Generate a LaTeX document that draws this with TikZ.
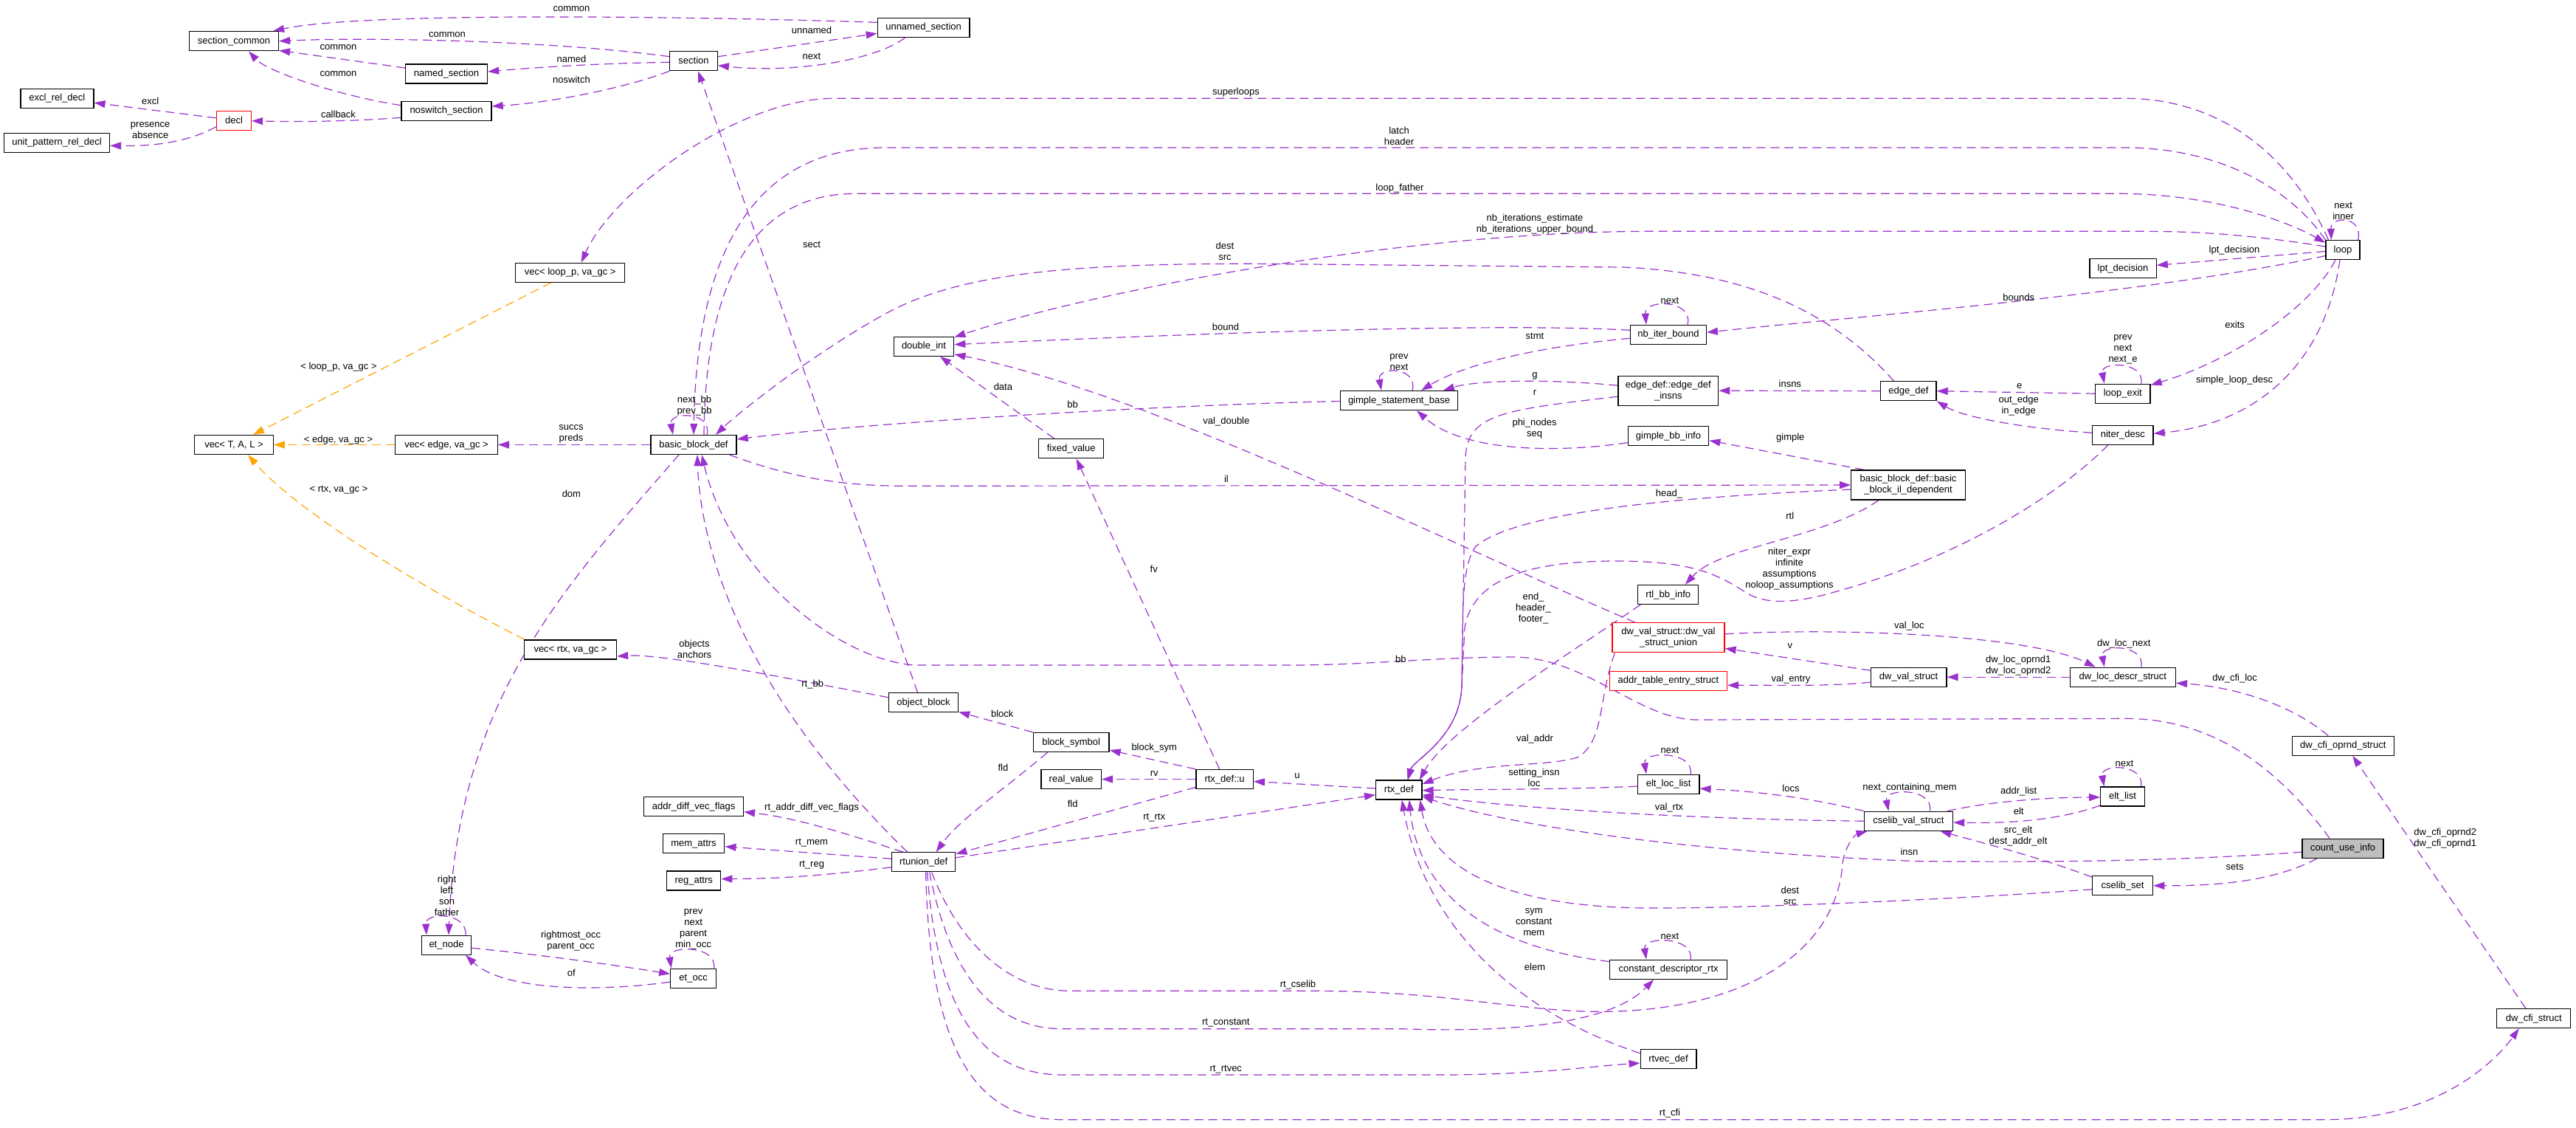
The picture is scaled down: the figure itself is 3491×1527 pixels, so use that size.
\documentclass[tikz,border=0pt]{standalone}
\usepackage{fontspec}
\setmainfont{Liberation Sans}
\usetikzlibrary{arrows.meta}
\pgfdeclarelayer{bg}
\pgfsetlayers{bg,main}
\definecolor{pur}{RGB}{154,50,205}
\definecolor{org}{RGB}{255,165,0}
\definecolor{rootgray}{RGB}{191,191,191}
\newcommand\dgfont{\fontsize{13}{15}\selectfont}
\tikzset{
  cls/.style={draw=black, line width=1.3pt, fill=white, minimum height=26pt, inner xsep=3pt, inner ysep=0pt, font=\dgfont, text height=9.5pt, text depth=2.5pt},
  cls2/.style={draw=black, line width=1.3pt, fill=white, minimum height=40pt, inner xsep=3pt, inner ysep=0pt, font=\dgfont, align=center},
  redcls/.style={draw=red},
  rootcls/.style={fill=rootgray},
  rel/.style={draw=pur, line width=1.2pt, dash pattern=on 12pt off 7pt, -{Triangle[length=15pt,width=10pt]}},
  tmpl/.style={draw=org, line width=1.2pt, dash pattern=on 12pt off 7pt, -{Triangle[length=15pt,width=10pt]}},
  lab/.style={font=\dgfont, align=center, inner sep=0pt}
}
\begin{document}
\begin{tikzpicture}[x=1pt,y=-1pt]
\useasboundingbox (0,0) rectangle (3491,1527);
% ---------- class nodes ----------
\node[cls, minimum width=121pt] (sc) at (317,55.7) {section\_common};
\node[cls, minimum width=111pt] (ns) at (605,100) {named\_section};
\node[cls, minimum width=122pt] (nss) at (605,150.3) {noswitch\_section};
\node[cls, minimum width=99pt] (erd) at (77.4,133.2) {excl\_rel\_decl};
\node[cls, redcls, minimum width=47pt] (decl) at (317,163.8) {decl};
\node[cls, minimum width=143pt] (uprd) at (77,193.3) {unit\_pattern\_rel\_decl};
\node[cls, minimum width=64.5pt] (sec) at (940,82.7) {section};
\node[cls, minimum width=124.6pt] (uns) at (1251.6,37.3) {unnamed\_section};
\node[cls, minimum width=148pt] (vlp) at (772.7,369.3) {vec< loop\_p, va\_gc >};
\node[cls, minimum width=106.6pt] (vtal) at (317,602.5) {vec< T, A, L >};
\node[cls, minimum width=138.6pt] (ved) at (605,602.5) {vec< edge, va\_gc >};
\node[cls, minimum width=125pt] (vrtx) at (773,880) {vec< rtx, va\_gc >};
\node[cls, minimum width=116.2pt] (bbd) at (940,602.5) {basic\_block\_def};
\node[cls, minimum width=81.4pt] (di) at (1252,469.3) {double\_int};
\node[cls, minimum width=88pt] (fv) at (1451.7,607.8) {fixed\_value};
\node[cls, minimum width=94pt] (ob) at (1251.6,951.8) {object\_block};
\node[cls, minimum width=102.7pt] (bs) at (1451.7,1005.5) {block\_symbol};
\node[cls, minimum width=81.4pt] (rv) at (1451.7,1055.5) {real\_value};
\node[cls, minimum width=77.4pt] (rxu) at (1659.6,1055.5) {rtx\_def::u};
\node[cls, minimum width=134.7pt] (adv) at (940.1,1092.7) {addr\_diff\_vec\_flags};
\node[cls, minimum width=83.6pt] (ma) at (940,1142.7) {mem\_attrs};
\node[cls, minimum width=73pt] (ra) at (940.2,1193) {reg\_attrs};
\node[cls, minimum width=86.4pt] (rtu) at (1251.6,1167.8) {rtunion\_def};
\node[cls, minimum width=67.3pt] (etn) at (605,1280.2) {et\_node};
\node[cls, minimum width=61.7pt] (eto) at (939.6,1325.2) {et\_occ};
\node[cls, minimum width=159.4pt] (gsb) at (1896,542.5) {gimple\_statement\_base};
\node[cls, minimum width=102.7pt] (nib) at (2261,453.3) {nb\_iter\_bound};
\node[cls2, minimum width=135.8pt] (edi) at (2260.8,529.2) {edge\_def::edge\_def\\\_insns};
\node[cls, minimum width=75.3pt] (ed) at (2586.4,529.7) {edge\_def};
\node[cls, minimum width=109.5pt] (gbi) at (2261,590.7) {gimple\_bb\_info};
\node[cls2, minimum width=154.4pt] (bil) at (2586,657) {basic\_block\_def::basic\\\_block\_il\_dependent};
\node[cls, minimum width=82pt] (rbi) at (2260.8,805.5) {rtl\_bb\_info};
\node[cls2, redcls, minimum width=152pt] (dvu) at (2261,863.8) {dw\_val\_struct::dw\_val\\\_struct\_union};
\node[cls, redcls, minimum width=158.8pt] (ate) at (2261,922.3) {addr\_table\_entry\_struct};
\node[cls, minimum width=102.8pt] (dvs) at (2586.6,917.2) {dw\_val\_struct};
\node[cls, minimum width=62.3pt] (rtx) at (1895.8,1070) {rtx\_def};
\node[cls, minimum width=83.6pt] (ell) at (2261.1,1062.2) {elt\_loc\_list};
\node[cls, minimum width=120.3pt] (cvs) at (2586.4,1112.2) {cselib\_val\_struct};
\node[cls, minimum width=158.8pt] (cdr) at (2261.1,1313.2) {constant\_descriptor\_rtx};
\node[cls, minimum width=75.7pt] (rvd) at (2261,1434.7) {rtvec\_def};
\node[cls, minimum width=46pt] (loop) at (3175,338.5) {loop};
\node[cls, minimum width=90.3pt] (lpt) at (2877,363.8) {lpt\_decision};
\node[cls, minimum width=74.6pt] (lex) at (2876.8,533.2) {loop\_exit};
\node[cls, minimum width=82.5pt] (nd) at (2876.8,589.3) {niter\_desc};
\node[cls, minimum width=143.1pt] (dld) at (2876.8,917.2) {dw\_loc\_descr\_struct};
\node[cls, minimum width=138pt] (dco) at (3175.2,1010.2) {dw\_cfi\_oprnd\_struct};
\node[cls, minimum width=59.5pt] (el) at (2876.5,1079) {elt\_list};
\node[cls, rootcls, minimum width=110pt] (cui) at (3175.1,1149.2) {count\_use\_info};
\node[cls, minimum width=82pt] (cs) at (2876.6,1199.7) {cselib\_set};
\node[cls, minimum width=100pt] (dcs) at (3433.8,1379.5) {dw\_cfi\_struct};
% ---------- connectors ----------
\begin{pgfonlayer}{bg}
\fill[white] (0,0) rectangle (3491,1527);
\draw[rel] ([yshift=7pt]uns.west) .. controls (1000,24) and (500,14) .. ([xshift=-8pt]sc.north east);
\draw[rel] ([yshift=6pt]sec.west) .. controls (750,55) and (500,50) .. (sc.east);
\draw[rel] ([yshift=8pt]ns.west) -- ([yshift=1pt]sc.south east);
\draw[rel] ([yshift=7.6pt]nss.west) .. controls (450,128) and (360,95) .. ([xshift=20pt]sc.south);
\draw[rel] ([yshift=-1.6pt]sec.west) .. controls (800,86) and (720,92) .. ([yshift=3pt]ns.east);
\draw[rel] (sec.south west) .. controls (860,115) and (760,138) .. ([yshift=6.3pt]nss.east);
\draw[rel] ([yshift=-9pt]nss.west) .. controls (470,165) and (400,165) .. (decl.east);
\draw[rel] ([yshift=4pt]decl.west) -- ([yshift=-6pt]erd.east);
\draw[rel] ([yshift=-8pt]decl.west) .. controls (250,195) and (200,198) .. ([yshift=-4pt]uprd.east);
\draw[rel] ([yshift=6pt]sec.east) -- ([yshift=-8pt]uns.west);
\draw[rel] ([xshift=-25pt]uns.south) .. controls (1190,80) and (1080,100) .. ([yshift=-6pt]sec.east);
\draw[rel] ([xshift=-8pt]ob.north) -- ([xshift=6pt]sec.south);
% loop
\draw[rel] ([xshift=4pt]loop.north west) .. controls (3100,200) and (3000,133.3) .. (2880,133.3) -- (1130,133.3) .. controls (1000,133.3) and (830,260) .. ([xshift=15pt]vlp.north);
\draw[rel] (loop.north west) .. controls (3100,250) and (3000,200) .. (2880,200) -- (1200,200) .. controls (1050,200) and (945,300) .. (bbd.north);
\draw[rel] ([xshift=14pt]bbd.north) .. controls (956,380) and (1020,262.3) .. (1160,262.3) -- (2870,262.3) .. controls (3000,262.3) and (3100,300) .. ([yshift=-4pt]loop.north west);
\draw[rel] ([yshift=4.5pt]loop.west) .. controls (3050,318) and (2980,313.3) .. (2900,313.3) -- (2240,313.3) .. controls (1900,313.3) and (1480,395) .. ([yshift=-1pt]di.north east);
\draw[rel] ([yshift=-2pt]loop.west) -- ([yshift=4.5pt]lpt.east);
\draw[rel] ([yshift=-8pt]loop.west) .. controls (2900,400) and (2500,430) .. ([yshift=3pt]nib.east);
\draw[rel] ([xshift=-10pt]loop.south) .. controls (3130,420) and (3020,490) .. ([yshift=-2pt]lex.north east);
\draw[rel] ([xshift=-4pt]loop.south) .. controls (3150,500) and (3050,575) .. ([yshift=2pt]nd.east);
\draw[rel] ([xshift=-3pt]loop.north east) .. controls (3203,292) and (3158,292) .. ([xshift=8pt]loop.north west);
% nb_iter_bound, gimple
\draw[rel] ([xshift=26pt]nib.north) .. controls (2295,405) and (2228,405) .. ([xshift=-30pt]nib.north);
\draw[rel] ([yshift=6pt]nib.west) .. controls (2050,438) and (1700,448) .. ([yshift=2.6pt]di.east);
\draw[rel] ([yshift=-5pt]nib.west) .. controls (2100,468) and (1990,490) .. ([xshift=30pt]gsb.north);
\draw[rel] ([xshift=18pt]gsb.north) .. controls (1922,496) and (1866,496) .. ([xshift=-24pt]gsb.north);
\draw[rel] ([yshift=7pt]edi.west) .. controls (2100,513) and (2000,515) .. ([xshift=60pt]gsb.north);
\draw[rel] ([yshift=-8pt]edi.west) .. controls (2040,555) and (1988,560) .. (1986,620) -- (1981,930) .. controls (1978,1000) and (1915,1030) .. ([xshift=12pt]rtx.north);
\draw[rel] (ed.west) -- (edi.east);
\draw[rel] (lex.west) -- (ed.east);
\draw[rel] ([yshift=3pt]nd.west) .. controls (2740,580) and (2660,565) .. (ed.south east);
\draw[rel] ([xshift=25pt]lex.north) .. controls (2907,489) and (2846,489) .. ([xshift=-25pt]lex.north);
\draw[rel] ([xshift=-20pt]ed.north) .. controls (2490,430) and (2380,370) .. (2200,362) -- (1700,357.3) .. controls (1450,357) and (1300,370) .. (1200,425) .. controls (1100,480) and (1000,560) .. ([xshift=30pt]bbd.north);
\draw[rel] ([yshift=-9pt]gbi.west) .. controls (2100,615) and (1980,610) .. ([xshift=24pt]gsb.south);
\draw[rel] ([xshift=-60pt]bil.north) -- ([yshift=-6pt]gbi.east);
\draw[rel] ([xshift=-10pt]bbd.south east) .. controls (1080,650) and (1150,658.3) .. (1230,658.3) -- (bil.west);
\draw[rel] ([yshift=-6pt]bil.west) .. controls (2300,672) and (2060,690) .. (2000,740) .. controls (1985,760) and (1983,800) .. (1982,850) -- (1981,930) .. controls (1978,1000) and (1915,1030) .. ([xshift=12pt]rtx.north);
\draw[rel] ([xshift=-40pt]bil.south) .. controls (2470,730) and (2330,740) .. ([xshift=23pt]rbi.north);
\draw[rel] ([xshift=-20pt]nd.south) .. controls (2780,680) and (2640,760) .. (2486,802) .. controls (2430,818) and (2395,818) .. (2370,805) .. controls (2330,780) and (2300,760) .. (2189,760) .. controls (2060,760) and (1995,790) .. (1985,850) -- (1981,930) .. controls (1978,1000) and (1915,1030) .. ([xshift=12pt]rtx.north);
\draw[rel] ([xshift=4pt]rbi.south west) .. controls (2120,890) and (1960,990) .. ([xshift=28pt]rtx.north);
\draw[rel] ([xshift=4pt]dvu.south west) .. controls (2165,950) and (2175,1000) .. (2140,1025) .. controls (2100,1040) and (2010,1030) .. ([yshift=8pt]rtx.east);
\draw[rel] ([xshift=-45pt]dvu.north) .. controls (1950,730) and (1550,530) .. ([yshift=-10.7pt]di.east);
\draw[rel] ([xshift=-23pt]fv.north) -- ([xshift=22pt]di.south);
\draw[rel] ([yshift=9pt]dvs.west) -- ([yshift=-14.5pt]dvu.east);
\draw[rel] ([yshift=-7pt]dvs.west) .. controls (2480,930) and (2400,928) .. ([yshift=-6pt]ate.east);
\draw[rel] ([yshift=5pt]dvu.east) .. controls (2500,850) and (2750,860) .. ([xshift=-37pt]dld.north);
\draw[rel] (dld.west) -- (dvs.east);
\draw[rel] ([xshift=25pt]dld.north) .. controls (2907,872) and (2846,872) .. ([xshift=-25pt]dld.north);
\draw[rel] ([xshift=-20pt]dco.north) .. controls (3100,950) and (3020,930) .. ([yshift=-8pt]dld.east);
\draw[rel] ([xshift=-11pt]dcs.north) -- ([xshift=13pt]dco.south);
% rtunion_def
\draw[rel] ([xshift=3pt]rtu.south) .. controls (1260,1420) and (1320,1516.7) .. (1440,1516.7) -- (3150,1516.7) .. controls (3300,1516.7) and (3380,1440) .. ([xshift=-20pt]dcs.south);
\draw[rel] ([xshift=5pt]rtu.south) .. controls (1270,1370) and (1330,1456) .. (1440,1456) -- (1950,1456) .. controls (2080,1456) and (2150,1445) .. ([yshift=-5.3pt]rvd.west);
\draw[rel] ([xshift=8pt]rtu.south) .. controls (1285,1310) and (1340,1393.7) .. (1440,1393.7) -- (1900,1393.7) .. controls (2080,1400) and (2190,1380) .. ([xshift=-20pt]cdr.south);
\draw[rel] ([xshift=11pt]rtu.south) .. controls (1300,1280) and (1370,1342.3) .. (1450,1342.3) -- (1780,1342.3) .. controls (2000,1342) and (2100,1385) .. (2250,1365) .. controls (2400,1345) and (2490,1270) .. (2497,1170) .. controls (2500,1145) and (2515,1130) .. ([xshift=5pt]cvs.south west);
\draw[rel] ([xshift=-22pt]rtu.north) .. controls (1020,950) and (950,760) .. ([xshift=5pt]bbd.south);
\draw[rel] ([xshift=-18pt]cui.north) .. controls (3080,1030) and (2990,973.3) .. (2880,973.3) -- (2300,975) .. controls (2220,975) and (2150,890) .. (2050,890) .. controls (1950,890) and (1850,901) .. (1750,901) -- (1240,901) .. controls (1140,895) and (990,780) .. ([xshift=11pt]bbd.south);
\draw[rel] ([yshift=7pt]ob.west) .. controls (1100,925) and (900,885) .. ([yshift=-9pt]vrtx.east);
\draw[rel] (bs.north west) -- ([yshift=1pt]ob.south east);
\draw[rel] (rxu.north west) -- ([yshift=3pt]bs.south east);
\draw[rel] (rxu.west) -- (rv.east);
\draw[rel] ([xshift=-7pt]rxu.north) -- ([xshift=7pt]fv.south);
\draw[rel] ([yshift=-11pt]rxu.west) -- ([yshift=11pt]rtu.east);
\draw[rel] ([xshift=-32pt]bs.south) .. controls (1360,1070) and (1300,1110) .. ([xshift=17pt]rtu.north);
\draw[rel] ([yshift=2pt]rtx.west) -- ([yshift=-3pt]rxu.east);
\draw[rel] ([yshift=6pt]rtu.east) -- ([yshift=-6.7pt]rtx.west);
\draw[rel] ([xshift=-28pt]rtu.north) .. controls (1150,1130) and (1080,1108) .. ([yshift=-7pt]adv.east);
\draw[rel] ([yshift=4.5pt]rtu.west) -- ([yshift=-4pt]ma.east);
\draw[rel] ([yshift=-7pt]rtu.west) .. controls (1100,1188) and (1050,1190) .. ([yshift=2.3pt]ra.east);
% et
\draw[rel] ([xshift=26pt]etn.north) .. controls (633,1235) and (576,1235) .. ([xshift=-27pt]etn.north);
\draw[rel] ([xshift=-20pt]bbd.south) .. controls (760,800) and (620,950) .. ([xshift=3pt]etn.north);
\draw[rel] ([yshift=-4pt]etn.east) .. controls (750,1295) and (850,1310) .. ([yshift=6pt]eto.west);
\draw[rel] ([yshift=-5pt]eto.west) .. controls (800,1345) and (680,1340) .. ([xshift=26pt]etn.south);
\draw[rel] ([xshift=28pt]eto.north) .. controls (972,1280) and (905,1280) .. ([xshift=-30pt]eto.north);
% cselib
\draw[rel] ([xshift=30pt]ell.north) .. controls (2296,1017) and (2226,1017) .. ([xshift=-30pt]ell.north);
\draw[rel] ([yshift=-3pt]ell.west) .. controls (2100,1070) and (2000,1069) .. ([yshift=-0.7pt]rtx.east);
\draw[rel] (cvs.north west) .. controls (2450,1080) and (2380,1072) .. ([yshift=-6pt]ell.east);
\draw[rel] (cvs.west) .. controls (2300,1110) and (2050,1095) .. ([yshift=-6.7pt]rtx.east);
\draw[rel] ([xshift=29pt]cvs.north) .. controls (2621,1067) and (2553,1067) .. ([xshift=-27pt]cvs.north);
\draw[rel] ([xshift=-8pt]cvs.north east) .. controls (2700,1085) and (2780,1080) .. ([yshift=-1pt]el.west);
\draw[rel] ([yshift=-12pt]el.west) .. controls (2780,1115) and (2700,1115) .. ([yshift=-2pt]cvs.east);
\draw[rel] ([xshift=25pt]el.north) .. controls (2907,1034) and (2846,1034) .. ([xshift=-25pt]el.north);
\draw[rel] ([yshift=-2pt]cs.north west) .. controls (2760,1160) and (2680,1140) .. ([xshift=43pt]cvs.south);
\draw[rel] ([xshift=-35pt]cui.south) .. controls (3080,1195) and (3000,1200) .. (cs.east);
\draw[rel] ([yshift=-5pt]cui.west) .. controls (2900,1170) and (2700,1167) .. (2600,1166.7) .. controls (2300,1155) and (2050,1120) .. ([yshift=-9pt]rtx.east);
\draw[rel] ([yshift=-5pt]cs.west) .. controls (2700,1215) and (2400,1230) .. (2250,1230) .. controls (2050,1232) and (1940,1180) .. ([xshift=-3pt]rtx.south east);
\draw[rel] ([yshift=-3pt]cdr.north west) .. controls (1990,1280) and (1920,1190) .. ([xshift=14pt]rtx.south);
\draw[rel] ([xshift=30pt]cdr.north) .. controls (2296,1268) and (2226,1268) .. ([xshift=-30pt]cdr.north);
\draw[rel] ([yshift=8pt]rvd.west) .. controls (2050,1370) and (1930,1250) .. ([xshift=4pt]rtx.south);
% vec and basic_block_def
\draw[rel] (bbd.west) -- (ved.east);
\draw[tmpl] (ved.west) -- (vtal.east);
\draw[tmpl] ([xshift=-26pt]vlp.south) -- ([xshift=26pt]vtal.north);
\draw[tmpl] ([xshift=-62pt]vrtx.north) .. controls (560,790) and (400,690) .. ([xshift=19pt]vtal.south);
\draw[rel] ([xshift=18pt]bbd.north) .. controls (966,557) and (906,557) .. ([xshift=-28pt]bbd.north);
\draw[rel] ([yshift=-1pt]gsb.west) .. controls (1600,548) and (1200,570) .. ([yshift=7.5pt]bbd.east);
\end{pgfonlayer}
% ---------- labels ----------
\node[lab] (l1) at (774.5,12.3) {common};
\node[lab] (l2) at (606,47) {common};
\node[lab] (l3) at (458.5,64) {common};
\node[lab] (l4) at (458.5,100) {common};
\node[lab] (l5) at (774.5,80) {named};
\node[lab] (l6) at (774.5,107.7) {noswitch};
\node[lab] (l7) at (203.7,136.7) {excl};
\node[lab] (l8) at (203.7,176.3) {presence\\absence};
\node[lab] (l9) at (458.5,155) {callback};
\node[lab] (l10) at (1100,40.7) {unnamed};
\node[lab] (l11) at (1100,76) {next};
\node[lab] (l12) at (1675,125) {superloops};
\node[lab] (l13) at (1896,184.2) {latch\\header};
\node[lab] (l14) at (1897,254.7) {loop\_father};
\node[lab] (l15) at (2080,303.2) {nb\_iterations\_estimate\\nb\_iterations\_upper\_bound};
\node[lab] (l16) at (3175.7,285.7) {next\\inner};
\node[lab] (l17) at (3028,338.7) {lpt\_decision};
\node[lab] (l18) at (2735.7,403.3) {bounds};
\node[lab] (l19) at (3028.6,440) {exits};
\node[lab] (l20) at (2877,473.1) {prev\\next\\next\_e};
\node[lab] (l21) at (3028,514.7) {simple\_loop\_desc};
\node[lab] (l22) at (1660,340.3) {dest\\src};
\node[lab] (l23) at (1661,442.7) {bound};
\node[lab] (l24) at (1100,331) {sect};
\node[lab] (l25) at (2263,407.7) {next};
\node[lab] (l26) at (2080,455.7) {stmt};
\node[lab] (l27) at (1896,490.2) {prev\\next};
\node[lab] (l28) at (2080,509.7) {g};
\node[lab] (l29) at (2080,532) {r};
\node[lab] (l30) at (2425.8,519.5) {insns};
\node[lab] (l31) at (2736.8,523.3) {e};
\node[lab] (l32) at (2735.7,549.7) {out\_edge\\in\_edge};
\node[lab] (l33) at (2079.5,580.5) {phi\_nodes\\seq};
\node[lab] (l34) at (2426.3,593) {gimple};
\node[lab] (l35) at (2262,668.7) {head\_};
\node[lab] (l36) at (2425.8,698.7) {rtl};
\node[lab] (l37) at (2425,771) {niter\_expr\\infinite\\assumptions\\noloop\_assumptions};
\node[lab] (l38) at (2078,823.7) {end\_\\header\_\\footer\_};
\node[lab] (l39) at (2587.4,847.7) {val\_loc};
\node[lab] (l40) at (2425.8,875.3) {v};
\node[lab] (l41) at (1898.3,892.7) {bb};
\node[lab] (l42) at (2427,920.3) {val\_entry};
\node[lab] (l43) at (2080,1000.7) {val\_addr};
\node[lab] (l44) at (2878.3,871.7) {dw\_loc\_next};
\node[lab] (l45) at (2735.2,901.9) {dw\_loc\_oprnd1\\dw\_loc\_oprnd2};
\node[lab] (l46) at (3028.6,918.7) {dw\_cfi\_loc};
\node[lab] (l47) at (3313.7,1135.2) {dw\_cfi\_oprnd2\\dw\_cfi\_oprnd1};
\node[lab] (l48) at (2263,1016.4) {next};
\node[lab] (l49) at (2079,1053.5) {setting\_insn\\loc};
\node[lab] (l50) at (2427,1068) {locs};
\node[lab] (l51) at (2588,1067) {next\_containing\_mem};
\node[lab] (l52) at (2262,1094) {val\_rtx};
\node[lab] (l53) at (2587.4,1154.3) {insn};
\node[lab] (l54) at (2425.8,1213.5) {dest\\src};
\node[lab] (l55) at (2078.7,1248.7) {sym\\constant\\mem};
\node[lab] (l56) at (2263,1268.7) {next};
\node[lab] (l57) at (2080,1310.3) {elem};
\node[lab] (l58) at (1759,1334) {rt\_cselib};
\node[lab] (l59) at (2263,1508.3) {rt\_cfi};
\node[lab] (l60) at (2878.8,1034.7) {next};
\node[lab] (l61) at (2735.7,1072.3) {addr\_list};
\node[lab] (l62) at (2735.7,1099) {elt};
\node[lab] (l63) at (2735,1132.9) {src\_elt\\dest\_addr\_elt};
\node[lab] (l64) at (3028.6,1174.3) {sets};
\node[lab] (l65) at (941,549.7) {next\_bb\\prev\_bb};
\node[lab] (l66) at (1359.4,524) {data};
\node[lab] (l67) at (1453.6,547.7) {bb};
\node[lab] (l68) at (1661.9,570.7) {val\_double};
\node[lab] (l69) at (1661.9,648.3) {il};
\node[lab] (l70) at (1563.7,770.7) {fv};
\node[lab] (l71) at (941,879.2) {objects\\anchors};
\node[lab] (l72) at (1101.2,926.7) {rt\_bb};
\node[lab] (l73) at (1358.2,966.7) {block};
\node[lab] (l74) at (1564.2,1013) {block\_sym};
\node[lab] (l75) at (1359.4,1040) {fld};
\node[lab] (l76) at (1564.2,1047.7) {rv};
\node[lab] (l77) at (1453.6,1089.3) {fld};
\node[lab] (l78) at (1564.2,1107.3) {rt\_rtx};
\node[lab] (l79) at (1758,1051) {u};
\node[lab] (l80) at (1100,1094.3) {rt\_addr\_diff\_vec\_flags};
\node[lab] (l81) at (1100,1141.7) {rt\_mem};
\node[lab] (l82) at (1100,1171.7) {rt\_reg};
\node[lab] (l83) at (939.6,1258.6) {prev\\next\\parent\\min\_occ};
\node[lab] (l84) at (605.5,1213.1) {right\\left\\son\\father};
\node[lab] (l85) at (773.6,1274.2) {rightmost\_occ\\parent\_occ};
\node[lab] (l86) at (774.4,1318.3) {of};
\node[lab] (l87) at (1661.3,1385.7) {rt\_constant};
\node[lab] (l88) at (1661.3,1448.3) {rt\_rtvec};
\node[lab] (l89) at (774,587.5) {succs\\preds};
\node[lab] (l90) at (774.4,669) {dom};
\node[lab] (l91) at (458.5,595.7) {< edge, va\_gc >};
\node[lab] (l92) at (459,497.3) {< loop\_p, va\_gc >};
\node[lab] (l93) at (459,664) {< rtx, va\_gc >};
\end{tikzpicture}
\end{document}
